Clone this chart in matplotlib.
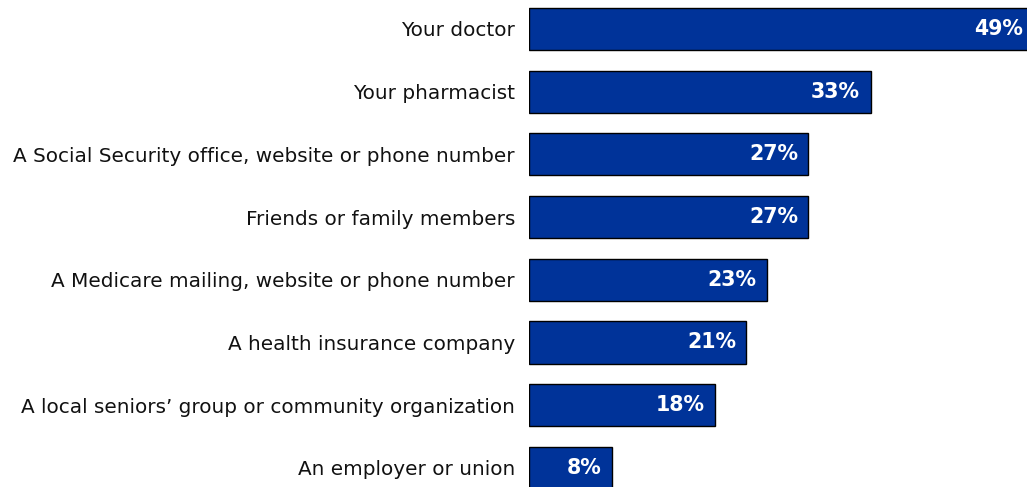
import matplotlib
matplotlib.use("Agg")
import matplotlib.pyplot as plt

# where people go for info (percent)
sources = [
    "Your doctor",
    "Your pharmacist",
    "A Social Security office, website or phone number",
    "Friends or family members",
    "A Medicare mailing, website or phone number",
    "A health insurance company",
    "A local seniors\u2019 group or community organization",
    "An employer or union",
]
pct = [49, 33, 27, 27, 23, 21, 18, 8]

bar_color = "#003399"

fig = plt.figure(figsize=(10.27, 4.87), dpi=100)
ax = fig.add_axes([529 / 1027, 0, 1 - 529 / 1027, 1])

ypos = list(range(len(sources)))
ax.barh(ypos, pct, height=0.67, color=bar_color, edgecolor="black", linewidth=1)

xmax = 498 / 10.35
ax.set_xlim(0, xmax)
ax.set_ylim((487 - 29) / 62.7, -29 / 62.7)

ax.set_yticks(ypos)
ax.set_yticklabels(sources, fontsize=14.4, color="#111111")
ax.tick_params(axis="y", length=0, pad=10)
ax.set_xticks([])
for s in ax.spines.values():
    s.set_visible(False)

# the top bar runs off the edge, so keep its label inside
for y, v in zip(ypos, pct):
    ax.annotate(f"{v}%", xy=(min(v, xmax), y), xytext=(-7.5 if v < xmax else -3, 0),
                textcoords="offset points", ha="right", va="center",
                color="white", fontsize=14.8, fontweight="bold")

fig.savefig("out.png", dpi=100)
